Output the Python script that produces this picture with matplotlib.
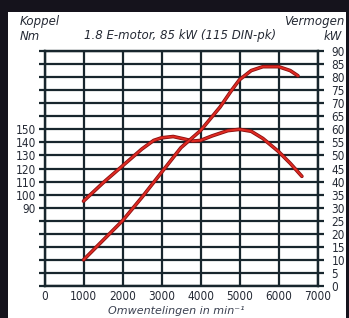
import matplotlib
matplotlib.use("Agg")
import matplotlib.pyplot as plt
from matplotlib.patches import Rectangle

# toerental (min-1)
rpm_koppel = [1000, 1500, 2000, 2500, 2800, 3000, 3300, 3600, 3800, 4000,
              4300, 4700, 5000, 5300, 5600, 6000, 6300, 6600]
# koppel (Nm)
koppel = [95, 109, 122, 135, 141.5, 143.5, 144.5, 142.5, 141, 141.5,
          145, 149, 150, 148.5, 143, 133, 124, 114]

rpm_vermogen = [1000, 1500, 2000, 2500, 3000, 3500, 4000, 4500, 4800, 5000,
                5300, 5600, 6000, 6300, 6500]
# vermogen (kW)
vermogen = [10, 17.5, 25, 34, 43.5, 53, 59.5, 68.5, 75, 79,
            82.5, 84, 84, 82.5, 80.5]

x_ticks = [0, 1000, 2000, 3000, 4000, 5000, 6000, 7000]
kw_ticks = list(range(0, 95, 5))
nm_ticks = list(range(30, 220, 10))
nm_labels = [90, 100, 110, 120, 130, 140, 150]

GRID = '#18262d'
TEXT = '#252a35'
plt.rcParams['font.family'] = ['DejaVu Sans']
plt.rcParams['font.stretch'] = 'condensed'

fig = plt.figure(figsize=(3.49, 3.18), dpi=100, facecolor='#15131c')
W, H = 349.0, 318.0
# wit kader
fig.patches.append(Rectangle((8 / W, 0), 338 / W, 306 / H, transform=fig.transFigure,
                             facecolor='white', edgecolor='none', zorder=-5))

ax = fig.add_axes([44.5 / W, 32 / H, 273 / W, 235 / H])
ax.set_facecolor('white')
ax.set_xlim(0, 7000)
ax.set_ylim(30, 210)
ax2 = ax.twinx()
ax2.set_ylim(0, 90)

for a in (ax, ax2):
    for s in a.spines.values():
        s.set_color(GRID)
        s.set_linewidth(1.6)

ax.set_xticks(x_ticks)
ax.set_xticklabels([str(v) for v in x_ticks])
ax.tick_params(axis='x', length=0, pad=3, labelsize=8.5, labelcolor=TEXT)
ax.xaxis.grid(True, color=GRID, linewidth=1.6)

ax.set_yticks(nm_ticks)
ax.set_yticklabels([str(v) if v in nm_labels else '' for v in nm_ticks])
ax.tick_params(axis='y', length=4, width=1.6, color=GRID, pad=2,
               labelsize=8.5, labelcolor=TEXT)
ax.yaxis.grid(True, color=GRID, linewidth=1.6)

ax2.set_yticks(kw_ticks)
ax2.set_yticklabels([str(v) for v in kw_ticks])
ax2.tick_params(axis='y', length=4, width=1.6, color=GRID, pad=6,
                labelsize=8.5, labelcolor=TEXT)

for a, xs, ys in ((ax, rpm_koppel, koppel), (ax2, rpm_vermogen, vermogen)):
    a.plot(xs, ys, color='#8a1010', linewidth=2.6, solid_capstyle='round',
           solid_joinstyle='round', zorder=5)
    a.plot(xs, ys, color='#e02a22', linewidth=1.4, solid_capstyle='round',
           solid_joinstyle='round', zorder=6)

kop = dict(style='italic', fontsize=8.5, color=TEXT, va='center', fontstretch='normal')
fig.text(20 / W, 1 - 22 / H, 'Koppel', **kop)
fig.text(20 / W, 1 - 36 / H, 'Nm', **kop)
fig.text(180 / W, 1 - 36 / H, '1.8 E-motor, 85 kW (115 DIN-pk)', ha='center', **kop)
fig.text(344 / W, 1 - 22 / H, 'Vermogen', ha='right', **kop)
fig.text(342 / W, 1 - 36 / H, 'kW', ha='right', **kop)
fig.text(176 / W, 1.5 / H, 'Omwentelingen in min\u207b\u00b9', style='italic',
         fontsize=8, color='#3a4050', va='bottom', ha='center', fontstretch='normal')

fig.savefig('out.png', dpi=100, facecolor=fig.get_facecolor())
